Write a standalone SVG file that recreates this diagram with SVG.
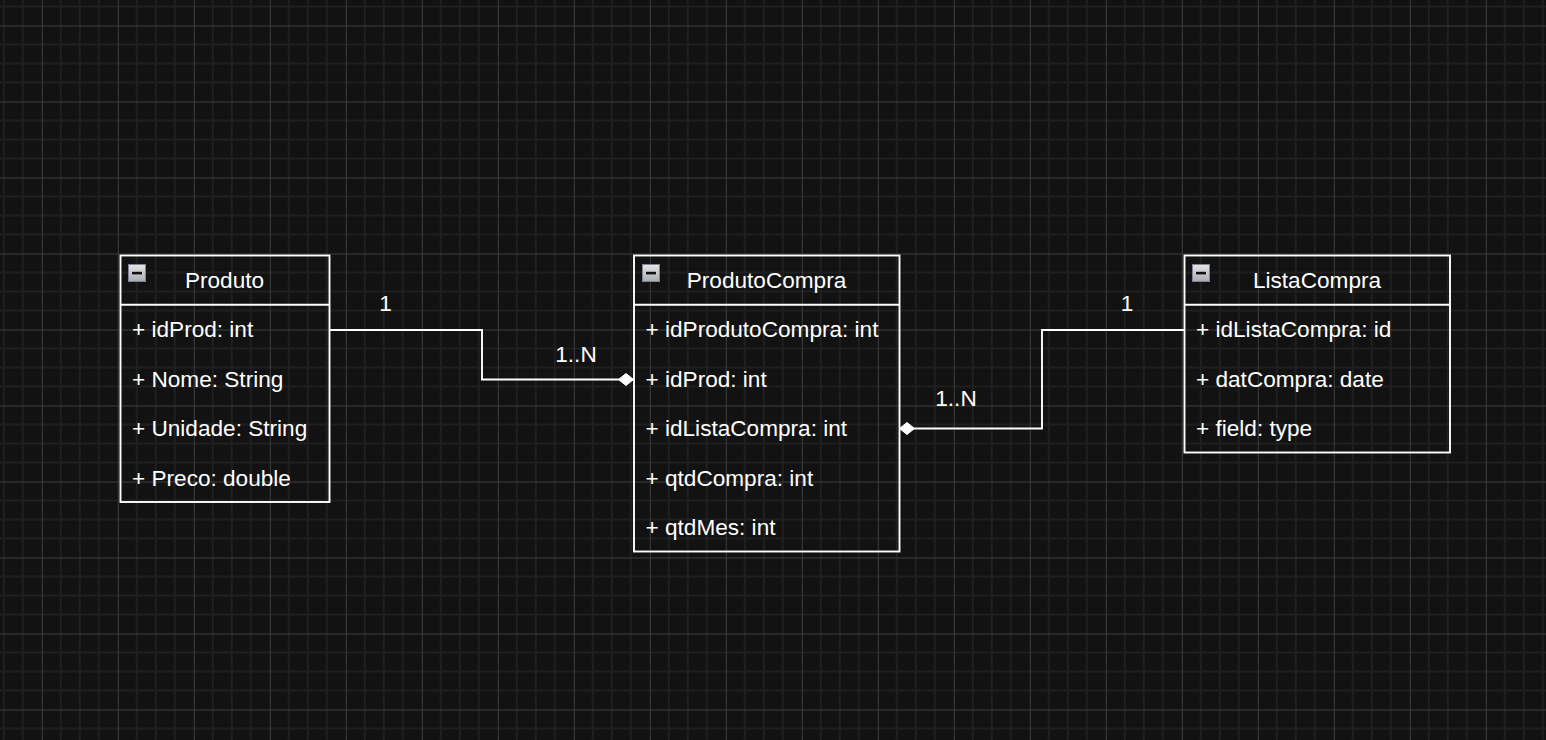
<svg xmlns="http://www.w3.org/2000/svg" width="1546" height="740" viewBox="0 0 1546 740">
<style>
.box{fill:none;stroke:#ffffff;stroke-width:1.9}
.sep{stroke:#ffffff;stroke-width:1.9}
.title{font-family:"Liberation Sans",Arial,sans-serif;font-size:22.6px;fill:#ffffff;text-anchor:middle}
.row{font-family:"Liberation Sans",Arial,sans-serif;font-size:22.6px;fill:#ffffff}
.lbl{font-family:"Liberation Sans",Arial,sans-serif;font-size:22.6px;fill:#ffffff;text-anchor:middle}
.edge{fill:none;stroke:#ffffff;stroke-width:1.9}
.icon-box{fill:url(#ig);stroke:#7d8494;stroke-width:1}
.icon-minus{fill:#111111}
</style>
<defs>
<linearGradient id="ig" x1="0" y1="0" x2="0" y2="1">
<stop offset="0" stop-color="#e6e6e6"/>
<stop offset="1" stop-color="#a9abb0"/>
</linearGradient>
<pattern id="grid" patternUnits="userSpaceOnUse" x="41.8" y="25.5" width="76" height="76">
<rect x="0" y="0" width="76" height="76" fill="#121212"/>
<rect x="18" y="0" width="2" height="76" fill="#1f1f1f"/>
<rect x="37" y="0" width="2" height="76" fill="#1f1f1f"/>
<rect x="56" y="0" width="2" height="76" fill="#1f1f1f"/>
<rect x="0" y="18" width="76" height="2" fill="#1f1f1f"/>
<rect x="0" y="37" width="76" height="2" fill="#1f1f1f"/>
<rect x="0" y="56" width="76" height="2" fill="#1f1f1f"/>
<rect x="0" y="0" width="1" height="76" fill="#3d3d3d"/>
<rect x="0" y="0" width="76" height="1" fill="#3d3d3d"/>
</pattern>
<marker id="diamond" markerUnits="userSpaceOnUse" markerWidth="16" markerHeight="14" refX="15" refY="6.5" orient="auto">
<path d="M0,6.5 L7.5,0.5 L15,6.5 L7.5,12.5 Z" fill="#ffffff" stroke="#ffffff" stroke-width="1"/>
</marker>
</defs>
<rect x="0" y="0" width="1546" height="740" fill="url(#grid)"/>

<g id="connectors">
<path class="edge" d="M329.5,330 L482,330 L482,379.5 L633.5,379.5" marker-end="url(#diamond)"/>
<path class="edge" d="M1184,330 L1042,330 L1042,428.5 L899.5,428.5" marker-end="url(#diamond)"/>
<text class="lbl" x="385.5" y="311">1</text>
<text class="lbl" x="576" y="362">1..N</text>
<text class="lbl" x="956" y="406">1..N</text>
<text class="lbl" x="1127" y="311">1</text>
</g>

<g id="Produto">
<rect class="box" x="120.5" y="255.5" width="209" height="246.5"/>
<line class="sep" x1="120.5" y1="304.7" x2="329.5" y2="304.7"/>
<rect class="icon-box" x="128.5" y="264.5" width="17" height="17"/>
<rect class="icon-minus" x="132" y="271.8" width="10" height="2.6"/>
<text class="title" x="224.5" y="288">Produto</text>
<text class="row" x="132" y="337.4">+ idProd: int</text>
<text class="row" x="132" y="386.8">+ Nome: String</text>
<text class="row" x="132" y="436.2">+ Unidade: String</text>
<text class="row" x="132" y="485.6">+ Preco: double</text>
</g>

<g id="ProdutoCompra">
<rect class="box" x="634" y="255.5" width="265.5" height="296"/>
<line class="sep" x1="634" y1="304.7" x2="899.5" y2="304.7"/>
<rect class="icon-box" x="642.5" y="264.5" width="17" height="17"/>
<rect class="icon-minus" x="646" y="271.8" width="10" height="2.6"/>
<text class="title" x="766.5" y="288">ProdutoCompra</text>
<text class="row" x="645.5" y="337.4">+ idProdutoCompra: int</text>
<text class="row" x="645.5" y="386.8">+ idProd: int</text>
<text class="row" x="645.5" y="436.2">+ idListaCompra: int</text>
<text class="row" x="645.5" y="485.6">+ qtdCompra: int</text>
<text class="row" x="645.5" y="535">+ qtdMes: int</text>
</g>

<g id="ListaCompra">
<rect class="box" x="1184.5" y="255.5" width="265.5" height="197"/>
<line class="sep" x1="1184.5" y1="304.7" x2="1450" y2="304.7"/>
<rect class="icon-box" x="1192.5" y="264.5" width="17" height="17"/>
<rect class="icon-minus" x="1196" y="271.8" width="10" height="2.6"/>
<text class="title" x="1317" y="288">ListaCompra</text>
<text class="row" x="1196" y="337.4">+ idListaCompra: id</text>
<text class="row" x="1196" y="386.8">+ datCompra: date</text>
<text class="row" x="1196" y="436.2">+ field: type</text>
</g>
</svg>
